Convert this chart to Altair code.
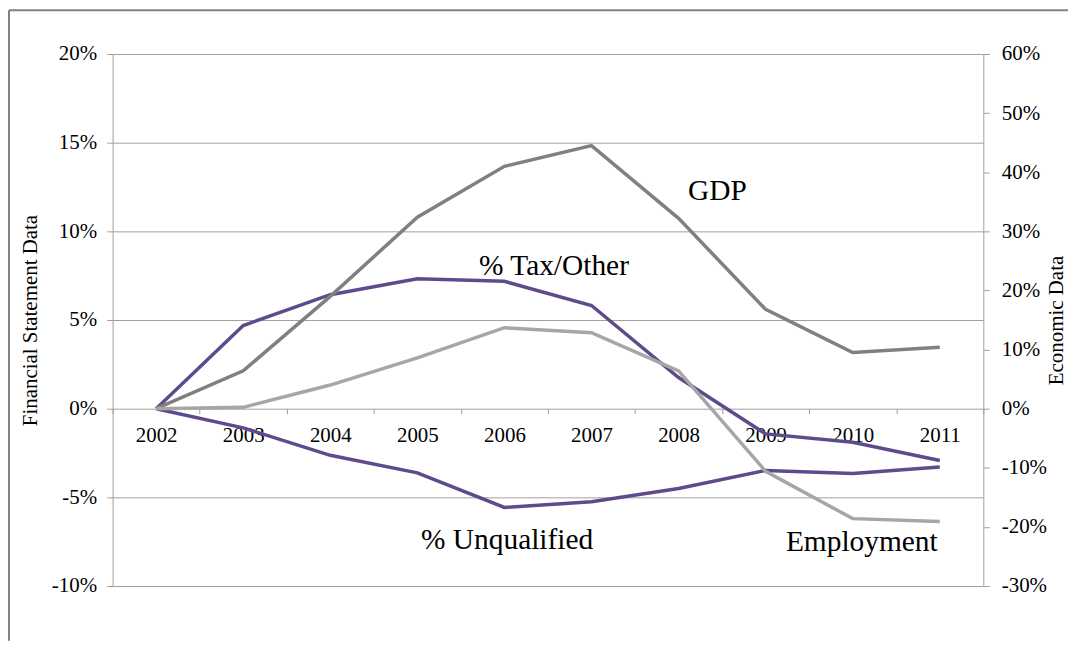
import altair as alt
import pandas as pd

# ---- data ----
years = ["2002", "2003", "2004", "2005", "2006", "2007", "2008", "2009", "2010", "2011"]
tax_other = [0.0, 4.69, 6.43, 7.33, 7.18, 5.82, 1.76, -1.42, -1.89, -2.92]
unqualified = [0.0, -1.08, -2.63, -3.62, -5.57, -5.25, -4.50, -3.48, -3.66, -3.29]
gdp = [0.0, 6.4, 19.0, 32.4, 41.0, 44.5, 32.2, 16.8, 9.5, 10.4]
employment = [0.0, 0.23, 4.0, 8.6, 13.7, 12.85, 6.4, -10.6, -18.6, -19.1]

series_names = ["% Tax/Other", "% Unqualified", "GDP", "Employment"]
series_colors = ["#5F4B8B", "#5F4B8B", "#808080", "#A6A6A6"]
left_ticks = [-10, -5, 0, 5, 10, 15, 20]
right_ticks = [-30, -20, -10, 0, 10, 20, 30, 40, 50, 60]

left_df = pd.DataFrame(
    [{"year": y, "series": "% Tax/Other", "value": v} for y, v in zip(years, tax_other)]
    + [{"year": y, "series": "% Unqualified", "value": v} for y, v in zip(years, unqualified)]
)
right_df = pd.DataFrame(
    [{"year": y, "series": "GDP", "value": v} for y, v in zip(years, gdp)]
    + [{"year": y, "series": "Employment", "value": v} for y, v in zip(years, employment)]
)

W, H = 874, 534
FONT = "Liberation Serif, 'Times New Roman', 'DejaVu Serif', serif"
GRID = "#a0a0a0"

color_enc = alt.Color(
    "series:N",
    scale=alt.Scale(domain=series_names, range=series_colors),
    legend=None,
)

x_enc = alt.X(
    "year:O",
    title=None,
    sort=years,
    scale=alt.Scale(type="band", paddingInner=0, paddingOuter=0),
    axis=alt.Axis(
        offset=-178,
        tickBand="extent",
        labelAngle=0,
        labelPadding=11,
        tickSize=5,
        grid=False,
        domain=False,
    ),
)

left_lines = alt.Chart(left_df).mark_line(strokeWidth=3.5).encode(
    x=x_enc,
    y=alt.Y(
        "value:Q",
        scale=alt.Scale(domain=[-10, 20], nice=False, zero=False),
        axis=alt.Axis(
            orient="left",
            values=left_ticks,
            labelExpr="datum.value + '%'",
            title="Financial Statement Data",
            titleX=-82,
            titleY=H / 2,
            titleAngle=270,
            titleAlign="center",
            titleBaseline="middle",
            grid=True,
            gridColor=GRID,
            tickSize=6,
            labelPadding=10,
        ),
    ),
    color=color_enc,
    detail="series:N",
)

right_lines = alt.Chart(right_df).mark_line(strokeWidth=3.5).encode(
    x=x_enc,
    y=alt.Y(
        "value:Q",
        scale=alt.Scale(domain=[-30, 60], nice=False, zero=False),
        axis=alt.Axis(
            orient="right",
            values=right_ticks,
            labelExpr="datum.value + '%'",
            title="Economic Data",
            titleX=73,
            titleY=H / 2,
            titleAngle=270,
            titleAlign="center",
            titleBaseline="middle",
            grid=False,
            tickSize=6,
            labelPadding=12,
        ),
    ),
    color=color_enc,
    detail="series:N",
)

def note(text, px, py):
    return alt.Chart(pd.DataFrame({"t": [text]})).mark_text(
        font=FONT, fontSize=29.5, color="black", align="center", baseline="alphabetic"
    ).encode(x=alt.value(px), y=alt.value(py), text="t:N")

notes = [
    note(series_names[0], 443, 222),
    note(series_names[2], 607, 147),
    note(series_names[1], 396, 497),
    note(series_names[3], 752, 499),
]

dummy = pd.DataFrame({"a": [0]})
frame_top = alt.Chart(dummy).mark_rule(color="#808080", strokeWidth=2).encode(
    x=alt.value(-104), x2=alt.value(959), y=alt.value(-44)
)
frame_left = alt.Chart(dummy).mark_rule(color="#808080", strokeWidth=2).encode(
    x=alt.value(-104), y=alt.value(-44), y2=alt.value(589)
)

chart = (
    alt.layer(left_lines, right_lines, *notes, frame_top, frame_left)
    .resolve_scale(y="independent")
    .properties(
        width=W,
        height=H,
        padding={"left": 105, "top": 45, "right": 85, "bottom": 55},
        autosize=alt.AutoSizeParams(type="none"),
        background="white",
    )
    .configure_view(stroke=None)
    .configure_axis(
        labelFont=FONT,
        titleFont=FONT,
        labelFontSize=21,
        titleFontSize=21,
        titleFontWeight="normal",
        labelColor="black",
        titleColor="black",
        domainColor=GRID,
        tickColor=GRID,
        domainWidth=1,
    )
)

chart.save("out.html", embed_options={"renderer": "svg", "actions": False})
